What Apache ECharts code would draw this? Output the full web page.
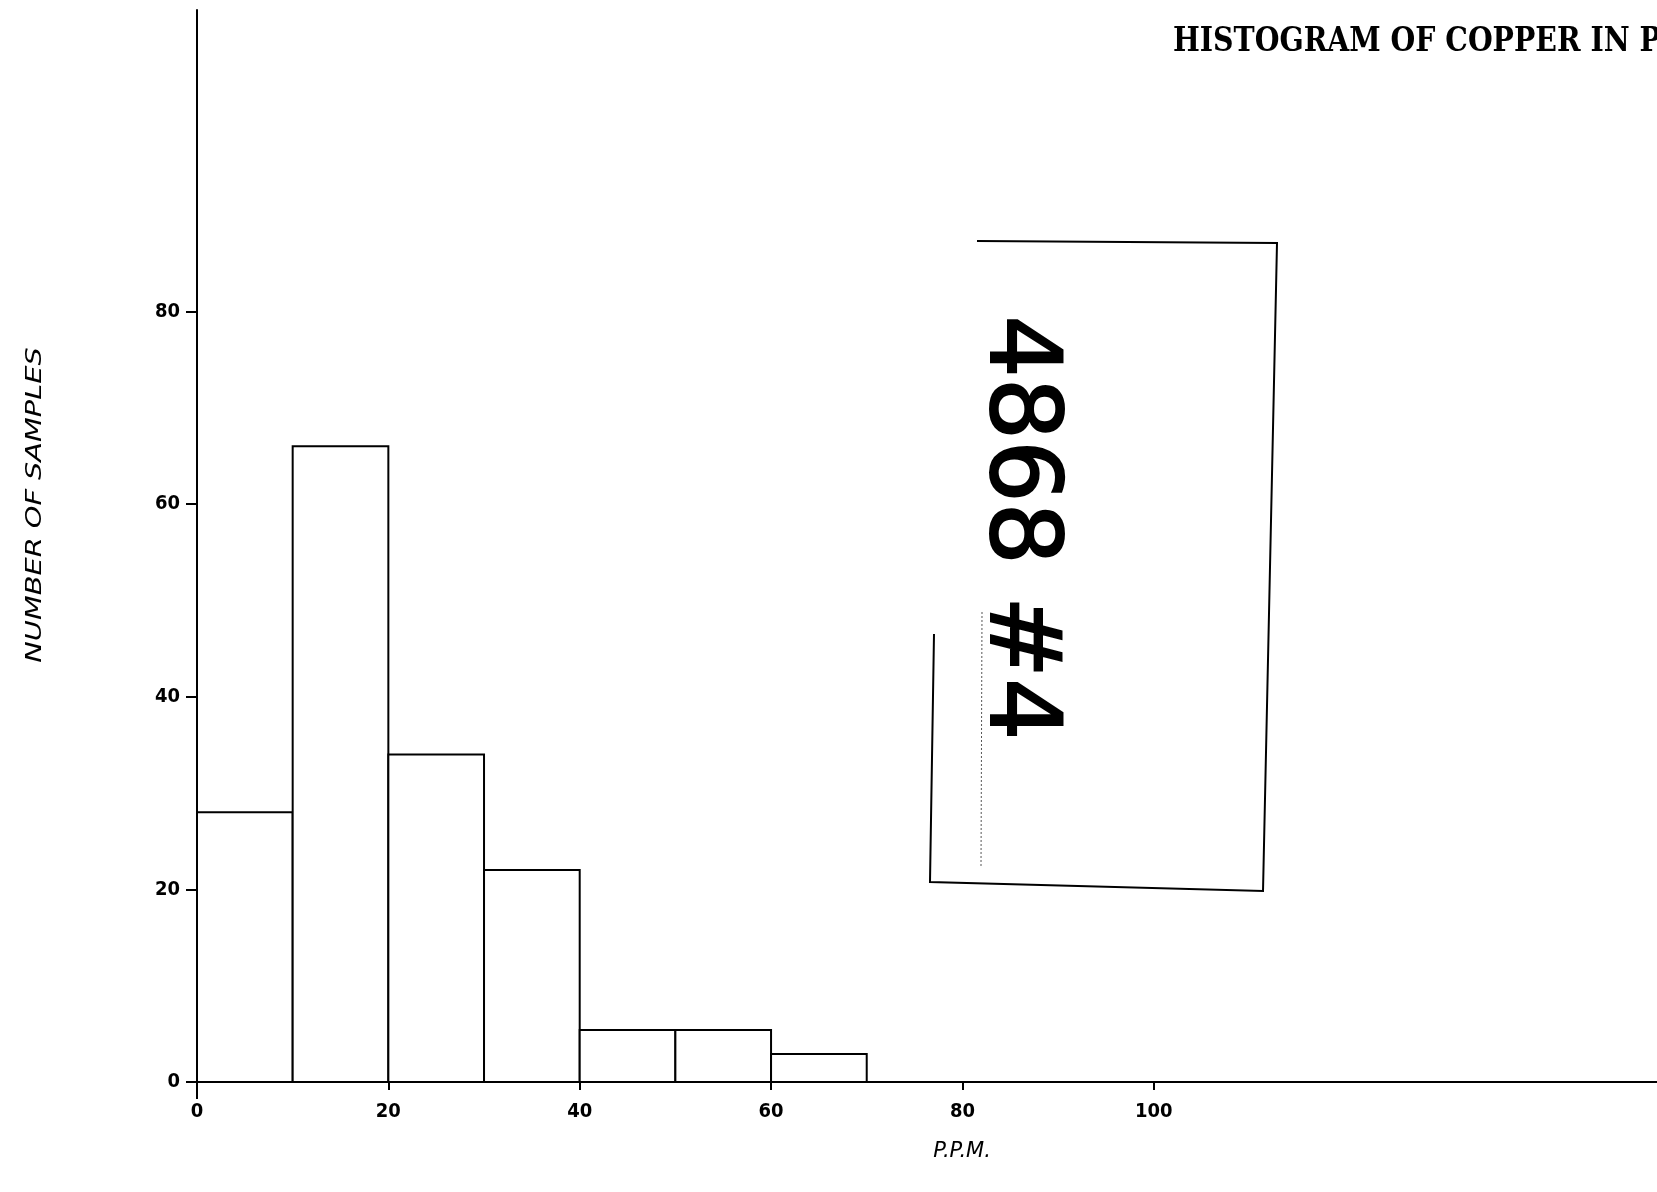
<!DOCTYPE html>
<html><head><meta charset="utf-8">
<script src="https://cdn.jsdelivr.net/npm/echarts@6/dist/echarts.min.js"></script>
<style>html,body{margin:0;padding:0;background:#fff}#c{width:1657px;height:1192px}</style>
</head><body><div id="c"></div>
<script>
// ---- data ----
const binStart = [0, 10, 20, 30, 40, 50, 60];
const binEnd   = [10, 20, 30, 40, 50, 60, 70];
const counts   = [28, 66, 34, 22, 5.4, 5.4, 2.9];
const xTicks   = [0, 20, 40, 60, 80, 100];
const yTicks   = [0, 20, 40, 60, 80];
const titleText = 'HISTOGRAM OF COPPER IN P.P.M.';
const xName = 'P.P.M.';
const yName = 'NUMBER OF SAMPLES';
const stampText = '4868 #4';

const chart = echarts.init(document.getElementById('c'), null, {renderer: 'canvas'});
const labelFont = {
  fontFamily: "'Liberation Sans Narrow','DejaVu Sans Condensed',sans-serif",
  fontWeight: 'bold', fontSize: 20, color: '#000'
};

const option = {
  backgroundColor: '#fff',
  animation: false,
  grid: {left: 197, right: 0, top: 10, bottom: 110},
  xAxis: {
    type: 'value', min: 0, max: 152.6, interval: 20,
    axisLine: {lineStyle: {color: '#000', width: 2}},
    axisTick: {customValues: xTicks, length: 8, lineStyle: {color: '#000', width: 2}},
    axisLabel: Object.assign({customValues: xTicks, margin: 20}, labelFont),
    splitLine: {show: false}
  },
  yAxis: {
    type: 'value', min: 0, max: 111.3, interval: 20,
    axisLine: {show: true, lineStyle: {color: '#000', width: 2}},
    axisTick: {show: true, customValues: yTicks, length: 11, lineStyle: {color: '#000', width: 2}},
    axisLabel: Object.assign({customValues: yTicks, margin: 17}, labelFont),
    splitLine: {show: false}
  },
  series: [{
    type: 'custom',
    clip: false,
    data: binStart.map((s, i) => [s, binEnd[i], counts[i]]),
    encode: {x: [0, 1], y: 2},
    renderItem: (params, api) => {
      const p0 = api.coord([api.value(0), api.value(2)]);
      const p1 = api.coord([api.value(1), 0]);
      return {
        type: 'rect',
        shape: {x: p0[0], y: p0[1], width: p1[0] - p0[0], height: p1[1] - p0[1]},
        style: {fill: '#fff', stroke: '#000', lineWidth: 2}
      };
    }
  }],
  graphic: [
    {type: 'text', x: 1173, y: 42, scaleX: 0.86,
     style: {text: titleText, fill: '#000', font: "bold 33px 'DejaVu Serif', serif",
             textAlign: 'left', textVerticalAlign: 'middle', align: 'left', verticalAlign: 'middle'}},
    {type: 'text', x: 962, y: 1152,
     style: {text: xName, fill: '#000', font: "italic 21px 'DejaVu Sans', sans-serif",
             textAlign: 'center', textVerticalAlign: 'middle', align: 'center', verticalAlign: 'middle'}},
    {type: 'text', x: 36, y: 505, rotation: Math.PI / 2, scaleX: 1.37,
     style: {text: yName, fill: '#000', font: "italic 21px 'DejaVu Sans', sans-serif",
             textAlign: 'center', textVerticalAlign: 'middle', align: 'center', verticalAlign: 'middle'}},
    // y-axis stub below zero
    {type: 'line', shape: {x1: 197, y1: 1082, x2: 197, y2: 1099},
     style: {stroke: '#000', lineWidth: 2}},
    // stamp box
    {type: 'polyline', shape: {points: [[934, 634], [930, 882], [1263, 891], [1277, 243], [977, 241]]},
     style: {stroke: '#000', lineWidth: 2, fill: null}},
    {type: 'line', shape: {x1: 982, y1: 612, x2: 981, y2: 868},
     style: {stroke: '#555', lineWidth: 1, lineDash: [2, 2]}},
    {type: 'text', x: 1016, y: 528, rotation: -Math.PI / 2,
     style: {text: stampText, fill: '#000', font: "98px 'DejaVu Sans', sans-serif",
             stroke: '#000', lineWidth: 2,
             textAlign: 'center', textVerticalAlign: 'middle', align: 'center', verticalAlign: 'middle'}}
  ]
};
chart.setOption(option);
</script>
</body></html>
